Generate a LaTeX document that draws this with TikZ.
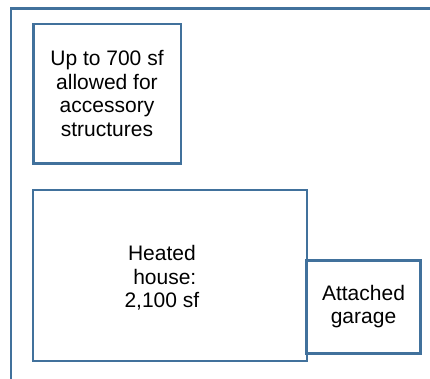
\documentclass[tikz,border=0pt]{standalone}
\usepackage{fontspec}
\setmainfont{Liberation Sans}
\definecolor{edge}{RGB}{65,113,156}
\begin{document}
\begin{tikzpicture}[x=1pt,y=-1pt,
  box/.style={draw=edge,line width=2.5pt,inner sep=0pt,align=center,
    font=\fontsize{21}{23.5}\selectfont,text=black}]
\useasboundingbox (0,0) rectangle (430,379);
\coordinate (tl) at (11,8.3);
\coordinate (tr) at (431,8.3);
\coordinate (bl) at (11,380);
\draw[edge,line width=2.5pt] (tr) -- (tl) -- (bl);
\node[box,minimum width=147.5pt,minimum height=139.3pt] (acc) at (107,93.7)
  {Up to 700 sf\\allowed for\\accessory\\structures};
\node[box,minimum width=273.7pt,minimum height=171pt] (house) at (169.9,275.5)
  {\raisebox{-4pt}[\height][\depth]{\begin{tabular}{@{}c@{}}Heated\\\ house:\\2,100 sf\end{tabular}}\hspace*{16pt}};
\node[box,minimum width=113.6pt,minimum height=93pt] (garage) at (363.5,306.8)
  {Attached\\garage};
\end{tikzpicture}
\end{document}
